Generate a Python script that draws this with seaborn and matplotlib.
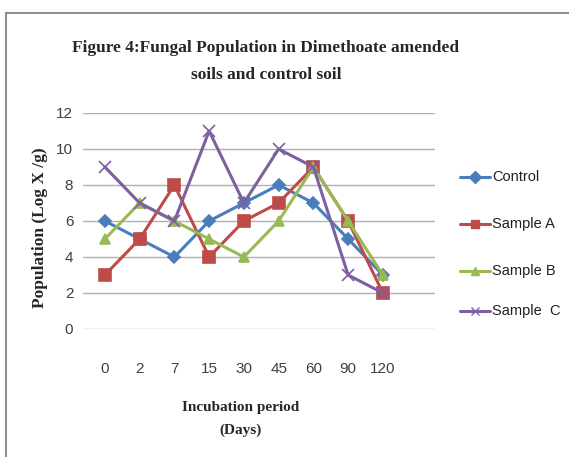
import matplotlib
matplotlib.use("Agg")
import matplotlib.pyplot as plt
import seaborn as sns
import pandas as pd
from matplotlib.patches import Rectangle

days = ["0", "2", "7", "15", "30", "45", "60", "90", "120"]
control = [6, 5, 4, 6, 7, 8, 7, 5, 3]
sample_a = [3, 5, 8, 4, 6, 7, 9, 6, 2]
sample_b = [5, 7, 6, 5, 4, 6, 9, 6, 3]
sample_c = [9, 7, 6, 11, 7, 10, 9, 3, 2]
series_names = ["Control", "Sample A", "Sample B", "Sample  C"]
colors = ["#4A7EBB", "#BE4B48", "#98B954", "#7D60A0"]
markers = ["D", "s", "^", "x"]
msizes = [6, 8, 7, 8]

sns.set_theme(style="white")
plt.rcParams['font.family'] = ['Liberation Sans Narrow', 'Liberation Sans', 'DejaVu Sans']

fig = plt.figure(figsize=(5.69, 4.57), dpi=100)
W, H = 569, 457
ax = fig.add_axes([83 / W, 1 - 329 / H, (435 - 83) / W, (329 - 113) / H])

for name, vals, c, m, ms in zip(series_names, [control, sample_a, sample_b, sample_c],
                                 colors, markers, msizes):
    df = pd.DataFrame({"pos": range(len(days)), "value": vals})
    sns.lineplot(data=df, x="pos", y="value", color=c, marker=m, ax=ax,
                 linewidth=2.2, markersize=ms, markeredgewidth=1.2,
                 markeredgecolor=c, label=name, legend=False)

ax.set_ylim(0, 12)
ax.set_yticks(range(0, 13, 2))
ax.set_xlim(-0.63, 9.5)
ax.set_xticks(range(len(days)))
ax.set_xticklabels(days)
ax.grid(axis="y", color="#B0B0B0", linewidth=1)
ax.grid(axis="x", visible=False)
for s in ["top", "right", "bottom", "left"]:
    ax.spines[s].set_visible(False)
ax.tick_params(axis="both", length=0, labelsize=11, colors="#404040")
ax.tick_params(axis="y", pad=7)
ax.tick_params(axis="x", pad=24)
ax.set_xlabel("")
ax.set_ylabel("")

serif = ['Liberation Serif', 'DejaVu Serif']
fig.text(266 / W, 1 - 48 / H, "Figure 4:Fungal Population in Dimethoate amended",
         ha="center", va="center", fontsize=12.5, fontweight="bold", family=serif)
fig.text(266 / W, 1 - 75 / H, "soils and control soil",
         ha="center", va="center", fontsize=12.5, fontweight="bold", family=serif)
fig.text(40 / W, 1 - 228 / H, "Population (Log X /g)", rotation=90,
         ha="center", va="center", fontsize=12.5, fontweight="bold", family=serif)
fig.text(241 / W, 1 - 408 / H, "Incubation period", ha="center", va="center",
         fontsize=11, fontweight="bold", family=serif)
fig.text(241 / W, 1 - 430 / H, "(Days)", ha="center", va="center",
         fontsize=11, fontweight="bold", family=serif)

# legend drawn manually
leg_y = [177, 224, 271, 311]
for name, c, m, y in zip(series_names, colors, markers, leg_y):
    yy = 1 - y / H
    fig.add_artist(plt.Line2D([460 / W, 490 / W], [yy, yy], color=c, linewidth=2.2,
                              transform=fig.transFigure))
    fig.add_artist(plt.Line2D([475 / W], [yy], color=c, marker=m, markersize=6,
                              markeredgecolor=c, transform=fig.transFigure))
    fig.text(492 / W, yy, name, ha="left", va="center", fontsize=10.5,
             color="#202020")

# outer chart frame
fig.add_artist(Rectangle((6 / W, -0.05), 1.1, 1 - 13 / H + 0.05,
                         transform=fig.transFigure, fill=False,
                         edgecolor="#909090", linewidth=1.5))

fig.savefig("out.png", dpi=100)
